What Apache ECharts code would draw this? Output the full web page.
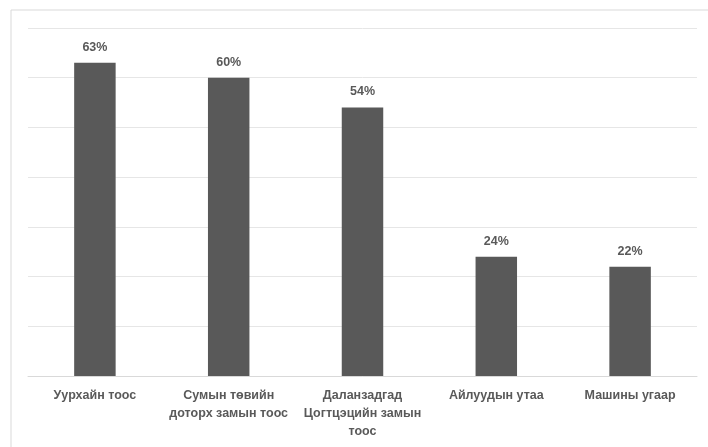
<!DOCTYPE html>
<html><head><meta charset="utf-8">
<script src="https://cdn.jsdelivr.net/npm/echarts@6/dist/echarts.min.js"></script>
<style>html,body{margin:0;padding:0;background:#fff}#c{width:708px;height:447px}</style>
</head><body><div id="c"></div>
<script>
const categories = ["Уурхайн тоос", "Сумын төвийн\nдоторх замын тоос", "Даланзадгад\nЦогтцэцийн замын\nтоос", "Айлуудын утаа", "Машины угаар"];
const values = [63, 60, 54, 24, 22];
const yMin = 0, yMax = 70, yStep = 10;

const chart = echarts.init(document.getElementById('c'));
chart.setOption({
  animation: false,
  graphic: [{
    type: 'rect', shape: {x: 11, y: 10, width: 720, height: 460},
    style: {fill: 'none', stroke: '#d9d9d9', lineWidth: 1}, silent: true
  }],
  grid: {left: 28, right: 11, top: 28, bottom: 71},
  xAxis: {
    type: 'category', data: categories,
    axisLine: {lineStyle: {color: '#d9d9d9'}},
    axisTick: {show: false},
    axisLabel: {color: '#595959', fontWeight: 'bold', fontSize: 12.5, fontFamily: 'Liberation Sans, Arial', lineHeight: 18, margin: 11, interval: 0}
  },
  yAxis: {
    type: 'value', min: yMin, max: yMax, interval: yStep,
    axisLabel: {show: false}, axisLine: {show: false}, axisTick: {show: false},
    splitLine: {lineStyle: {color: '#e6e6e6'}}
  },
  series: [{
    type: 'bar', data: values, barWidth: '31%',
    itemStyle: {color: '#595959'},
    label: {show: true, position: 'top', distance: 9, formatter: '{c}%', color: '#595959', fontWeight: 'bold', fontSize: 12.5, fontFamily: 'Liberation Sans, Arial'}
  }]
});
</script></body></html>
